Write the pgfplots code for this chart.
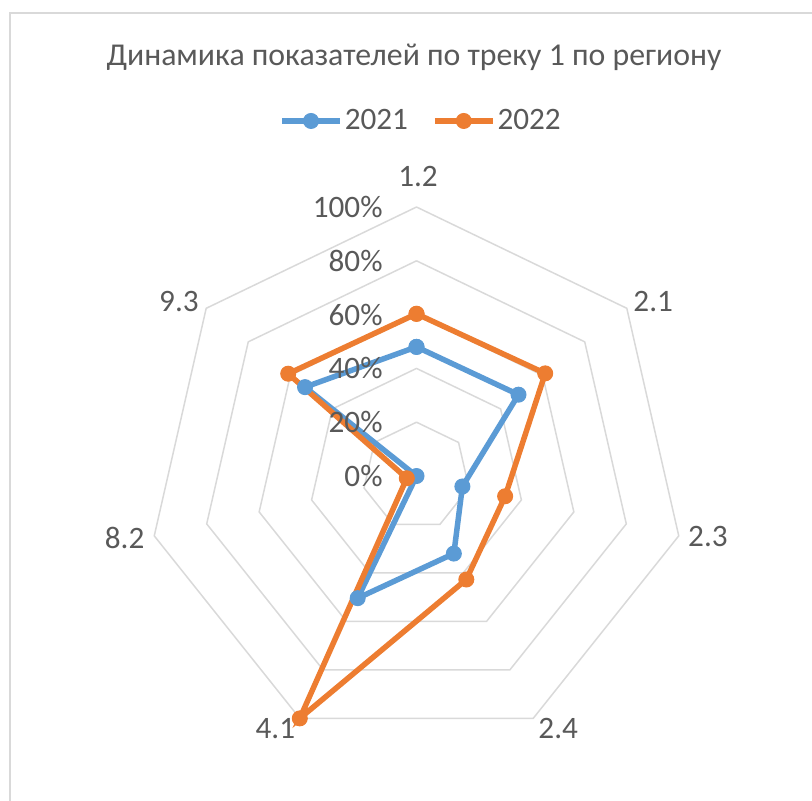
\documentclass[border=0pt]{standalone}
\usepackage{pgfplots}
\pgfplotsset{compat=1.18}
\usepgfplotslibrary{polar}
\usepackage{fontspec}
\setmainfont{Carlito}
\definecolor{blueS}{HTML}{5B9BD5}
\definecolor{orangeS}{HTML}{ED7D31}
\definecolor{gridc}{HTML}{D9D9D9}
\definecolor{txt}{HTML}{595959}
\newcommand{\fs}{\fontsize{15.6}{18}\selectfont}
\newcommand{\fst}{\fontsize{15.9}{18}\selectfont}
\begin{document}
\begin{tikzpicture}
\begin{polaraxis}[
  scale only axis, width=269pt, height=269pt,
  xmin=0, xmax=360, ymin=0, ymax=100,
  hide axis, clip=false,
  legend columns=2,
  legend style={draw=none, fill=none, font=\fs, text=txt,
    at={(axis cs:89.27,132)}, anchor=center,
    /tikz/every even column/.append style={column sep=11pt},
    nodes={inner sep=1pt}},
  legend image code/.code={\draw[mark repeat=2,mark phase=2,#1] plot coordinates {(0pt,0pt) (14.5pt,0pt) (29pt,0pt)};},
]
% grid heptagons
\addplot[gridc, line width=0.75pt, no marks, forget plot] coordinates {(90,20) (38.571,20) (-12.857,20) (-64.286,20) (-115.714,20) (-167.143,20) (-218.571,20) (-270,20)};
\addplot[gridc, line width=0.75pt, no marks, forget plot] coordinates {(90,40) (38.571,40) (-12.857,40) (-64.286,40) (-115.714,40) (-167.143,40) (-218.571,40) (-270,40)};
\addplot[gridc, line width=0.75pt, no marks, forget plot] coordinates {(90,60) (38.571,60) (-12.857,60) (-64.286,60) (-115.714,60) (-167.143,60) (-218.571,60) (-270,60)};
\addplot[gridc, line width=0.75pt, no marks, forget plot] coordinates {(90,80) (38.571,80) (-12.857,80) (-64.286,80) (-115.714,80) (-167.143,80) (-218.571,80) (-270,80)};
\addplot[gridc, line width=0.75pt, no marks, forget plot] coordinates {(90,100) (38.571,100) (-12.857,100) (-64.286,100) (-115.714,100) (-167.143,100) (-218.571,100) (-270,100)};
% series
\addplot[blueS, line width=2.75pt, mark=*, mark size=3.75pt, mark options={solid, fill=blueS, draw=blueS, line width=0.5pt}] coordinates {(90,48) (38.571,48.5) (-12.857,17.5) (-64.286,32) (-115.714,50.4) (-167.143,0) (-218.571,53) (-270,48)};
\addlegendentry{2021}
\addplot[orangeS, line width=2.75pt, mark=*, mark size=3.75pt, mark options={solid, fill=orangeS, draw=orangeS, line width=0.5pt}] coordinates {(90,60.3) (38.571,61.2) (-12.857,33.8) (-64.286,42.7) (-115.714,100) (-167.143,3.7) (-218.571,61) (-270,60.3)};
\addlegendentry{2022}
% percentage labels
\foreach \v/\l in {0/0\%,20/20\%,40/40\%,60/60\%,80/80\%,100/100\%}{
  \edef\temp{\noexpand\node[anchor=east, inner sep=0pt, text=txt, font=\noexpand\fs, xshift=-16.75pt] at (axis cs:90,\v) {\l};}
  \temp
}
% category labels
\node[text=txt, font=\fs, xshift=0.75pt, yshift=15.5pt] at (axis cs:90,100) {1.2};
\node[text=txt, font=\fs, xshift=13.2pt, yshift=3.3pt] at (axis cs:38.571,100) {2.1};
\node[text=txt, font=\fs, xshift=14.6pt, yshift=-0.5pt] at (axis cs:-12.857,100) {2.3};
\node[text=txt, font=\fs, xshift=12.5pt, yshift=-4.9pt] at (axis cs:-64.286,100) {2.4};
\node[text=txt, font=\fs, xshift=-12.2pt, yshift=-4.9pt] at (axis cs:-115.714,100) {4.1};
\node[text=txt, font=\fs, xshift=-14.8pt, yshift=-1pt] at (axis cs:-167.143,100) {8.2};
\node[text=txt, font=\fs, xshift=-13.6pt, yshift=3.6pt] at (axis cs:-218.571,100) {9.3};
\coordinate (C) at (axis cs:0,0);
\end{polaraxis}
\node[text=txt, font=\fst] at ([xshift=-1.25pt, yshift=209.5pt]C) {Динамика показателей по треку 1 по региону};
\draw[gridc, line width=0.75pt] ([xshift=-203.25pt, yshift=231.5pt]C) rectangle ++(500pt,-500pt);
\pgfresetboundingbox
\path[use as bounding box] ([xshift=-208.25pt, yshift=238pt]C) rectangle ++(406pt,-400pt);
\end{tikzpicture}
\end{document}
